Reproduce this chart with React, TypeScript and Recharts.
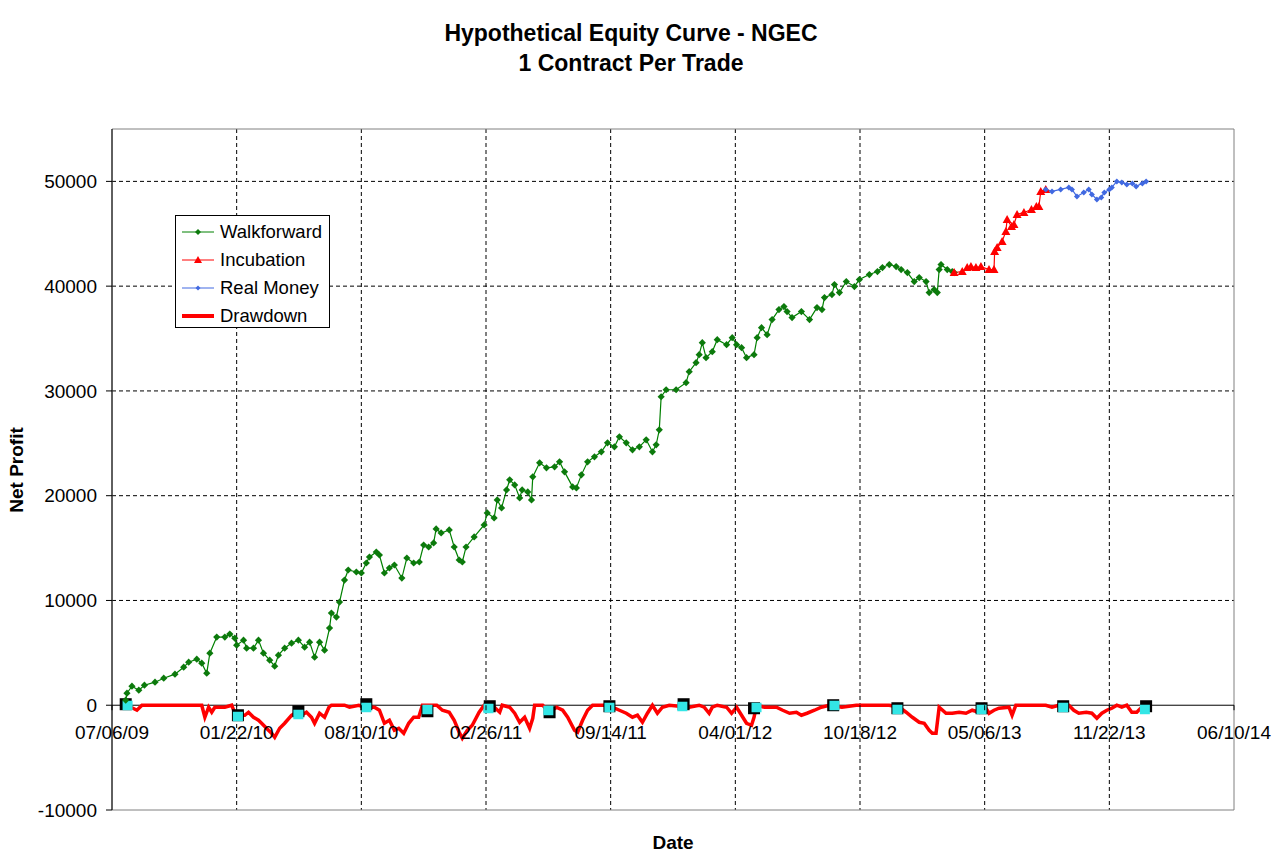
import React from 'react';
import {
  ComposedChart,
  Line,
  Scatter,
  XAxis,
  YAxis,
  CartesianGrid,
  ReferenceLine,
  ReferenceArea,
  Legend,
} from 'recharts';

// ---- axis ticks (days since 07/06/09) ----
const xTicks = [0, 200, 400, 600, 800, 1000, 1200, 1400, 1600, 1800];
const xTickLabels = ['07/06/09', '01/22/10', '08/10/10', '02/26/11', '09/14/11', '04/01/12', '10/18/12', '05/06/13', '11/22/13', '06/10/14'];
const yTicks = [-10000, 0, 10000, 20000, 30000, 40000, 50000];
const yGridValues = [10000, 20000, 30000, 40000, 50000];
const xGridValues = [200, 400, 600, 800, 1000, 1200, 1400, 1600];
const Y_MIN = -10000;
const Y_MAX = 55000;
const X_MIN = 0;
const X_MAX = 1800;

// ---- series: [day, net profit] ----
const walkforward: [number, number][] = [
  [22, 478], [24, 1147], [32, 1816], [43, 1434], [52, 1912], [69, 2199], [83, 2581], [101, 2963], [115, 3632], [123, 4111],
  [136, 4398], [144, 4015], [152, 3059], [157, 4971], [168, 6501], [181, 6501], [189, 6788], [197, 6405], [200, 5736], [211, 6214],
  [216, 5449], [227, 5449], [235, 6214], [243, 4971], [253, 4302], [261, 3728], [267, 4780], [277, 5449], [288, 5927], [299, 6214],
  [309, 5545], [317, 6023], [325, 4589], [333, 6023], [341, 5258], [349, 7361], [352, 8795], [360, 8413], [365, 9847], [373, 11950],
  [379, 12906], [392, 12715], [400, 12619], [408, 13575], [413, 14149], [424, 14627], [429, 14340], [437, 12619], [445, 13097], [453, 13384],
  [465, 12141], [473, 14053], [484, 13575], [493, 13671], [500, 15296], [508, 15105], [516, 15487], [520, 16826], [528, 16443], [541, 16730],
  [549, 15105], [557, 13862], [562, 13671], [568, 15105], [581, 16061], [597, 17208], [602, 18355], [613, 17877], [618, 19598], [625, 18833],
  [633, 20554], [638, 21510], [646, 21032], [654, 19789], [658, 20554], [667, 20363], [673, 19598], [675, 21797], [686, 23135], [697, 22657],
  [710, 22753], [718, 23231], [726, 22275], [739, 20841], [745, 20745], [753, 21988], [763, 23231], [774, 23709], [785, 24187], [795, 25047],
  [806, 24665], [814, 25621], [825, 25047], [835, 24378], [846, 24665], [857, 25334], [867, 24187], [873, 24856], [878, 26290], [881, 29445],
  [889, 30114], [905, 30114], [921, 30783], [926, 31835], [937, 32695], [942, 33460], [947, 34607], [953, 33173], [963, 33747], [971, 34894],
  [986, 34416], [995, 35085], [1002, 34416], [1010, 34129], [1018, 33173], [1030, 33460], [1035, 35085], [1042, 36041], [1051, 35372], [1059, 36806],
  [1070, 37762], [1078, 38049], [1083, 37571], [1091, 36997], [1106, 37571], [1119, 36806], [1131, 37953], [1139, 37762], [1143, 38909], [1155, 39196],
  [1159, 40152], [1167, 39387], [1178, 40439], [1191, 39961], [1199, 40630], [1215, 41108], [1228, 41395], [1236, 41777], [1247, 42064], [1258, 41873],
  [1266, 41586], [1276, 41299], [1287, 40439], [1295, 40821], [1306, 40439], [1311, 39387], [1319, 39674], [1324, 39387], [1327, 41586], [1330, 42064],
  [1340, 41586], [1348, 41395], [1351, 41299],
];

const incubation: [number, number][] = [
  [1351, 41299], [1364, 41395], [1372, 41777], [1378, 41873], [1386, 41777], [1394, 41873], [1407, 41586], [1415, 41586], [1416, 43307], [1420, 43689],
  [1428, 44263], [1434, 45219], [1436, 46366], [1443, 45697], [1447, 45888], [1452, 46844], [1463, 47035], [1475, 47322], [1483, 47609], [1487, 47609],
  [1490, 49043], [1498, 49234],
];

const realMoney: [number, number][] = [
  [1498, 49234], [1508, 49043], [1522, 49234], [1535, 49425], [1540, 49234], [1548, 48565], [1559, 48947], [1567, 49234], [1572, 48756], [1580, 48278],
  [1587, 48469], [1592, 48947], [1600, 49234], [1604, 49425], [1612, 49998], [1620, 49903], [1628, 49712], [1637, 49807], [1643, 49521], [1653, 49807],
  [1659, 49998],
];

const drawdown: [number, number][] = [
  [24, 0], [40, -478], [48, 0], [144, 0], [149, -1147], [155, -191], [160, -669], [165, -191], [181, -191], [192, 0],
  [197, -765], [203, -956], [213, -956], [219, -669], [227, -1147], [235, -1434], [240, -1721], [251, -2390], [256, -2677], [261, -3059],
  [269, -2199], [277, -1721], [288, -956], [296, -669], [304, -956], [312, -669], [320, -1147], [325, -1721], [333, -765], [341, -1147],
  [348, -191], [352, 0], [373, 0], [381, -191], [396, 0], [405, -191], [421, -191], [429, -478], [437, -1721], [445, -1434],
  [453, -2390], [460, -2199], [468, -2677], [476, -1721], [484, -1147], [492, -1147], [498, 0], [521, 0], [530, -478], [541, -669],
  [549, -1434], [557, -2581], [562, -3155], [570, -2390], [578, -1912], [589, -669], [597, 0], [610, 0], [622, -669], [626, 0],
  [638, -191], [646, -765], [654, -1625], [662, -1147], [670, -2199], [675, -1243], [678, 0], [691, 0], [702, -669], [713, -191],
  [723, -478], [731, -1147], [742, -2390], [747, -2581], [755, -1434], [763, -478], [771, 0], [793, 0], [803, -191], [814, -478],
  [825, -765], [835, -1147], [843, -956], [851, -1625], [859, -765], [867, 0], [875, -765], [883, -191], [894, 0], [926, -191],
  [942, 0], [950, -191], [958, -765], [963, -191], [971, 0], [986, -191], [994, -765], [1002, -191], [1010, -956], [1018, -1721],
  [1026, -1912], [1030, -1147], [1034, 0], [1047, -191], [1066, -191], [1076, -478], [1087, -765], [1098, -669], [1106, -956], [1115, -765],
  [1127, -478], [1138, -191], [1151, 0], [1171, -191], [1194, 0], [1247, 0], [1263, -191], [1274, -669], [1284, -1147], [1295, -1625],
  [1303, -1721], [1311, -2390], [1316, -2677], [1322, -2677], [1327, -191], [1338, -765], [1348, -765], [1359, -669], [1370, -765], [1380, -478],
  [1391, -669], [1399, 0], [1407, -765], [1415, -478], [1423, -287], [1439, -191], [1444, -956], [1450, 0], [1498, 0], [1508, -191],
  [1519, 0], [1535, 0], [1543, -478], [1551, -765], [1563, -669], [1572, -765], [1580, -1243], [1588, -765], [1596, -478], [1604, -287],
  [1612, 0], [1620, -191], [1628, 0], [1636, -669], [1644, -669], [1652, -191], [1660, 0],
];

const blackMarkers: [number, number][] = [
  [22, 96], [202, -956], [299, -574], [408, 96], [506, -574], [606, -96], [702, -669], [798, -96], [917, 96], [1030, -287],
  [1157, 0], [1260, -287], [1395, -287], [1526, -96], [1659, -96],
];

const cyanMarkers: [number, number][] = [
  [25, 0], [202, -1052], [299, -860], [408, -191], [506, -382], [604, -287], [700, -478], [798, -191], [915, -96], [1034, -191],
  [1159, 0], [1260, -382], [1395, -382], [1526, -191], [1657, -382],
];

const toRows = (arr: [number, number][]) => arr.map(([d, v]) => ({ d, v }));

// ---- layout ----
const W = 1278;
const H = 861;
const MARGIN = { top: 129, right: 44, bottom: 50, left: 12 };
const Y_AXIS_W = 100;
const X_AXIS_H = 1;
const PLOT_TOP = MARGIN.top;
const PLOT_H = H - MARGIN.top - MARGIN.bottom - X_AXIS_H;
const ZERO_Y = PLOT_TOP + ((Y_MAX - 0) / (Y_MAX - Y_MIN)) * PLOT_H;
const FONT = '"Liberation Sans", Arial, sans-serif';

const GREEN = '#008000';
const RED = '#ff0000';
const BLUE = '#4169e1';
const CYAN = '#33e6e6';

const XTick = (props: any) => {
  const { x, payload } = props;
  const idx = xTicks.indexOf(payload.value);
  const label = idx >= 0 ? xTickLabels[idx] : '';
  return (
    <g>
      <line x1={x} x2={x} y1={ZERO_Y} y2={ZERO_Y + 5} stroke="#000" strokeWidth={1} />
      <text x={x} y={ZERO_Y + 34} textAnchor="middle" fontFamily={FONT} fontSize={19} fill="#000">
        {label}
      </text>
    </g>
  );
};

const GreenDot = (p: any) => {
  const { cx, cy } = p;
  if (cx == null || cy == null) return <g />;
  return <path d={`M${cx} ${cy - 3.6}L${cx + 3.6} ${cy}L${cx} ${cy + 3.6}L${cx - 3.6} ${cy}Z`} fill="#0c7a0c" />;
};
const RedDot = (p: any) => {
  const { cx, cy } = p;
  if (cx == null || cy == null) return <g />;
  return <path d={`M${cx} ${cy - 4.5}L${cx + 4.5} ${cy + 3.5}L${cx - 4.5} ${cy + 3.5}Z`} fill={RED} />;
};
const BlueDot = (p: any) => {
  const { cx, cy } = p;
  if (cx == null || cy == null) return <g />;
  return <path d={`M${cx} ${cy - 3}L${cx + 3} ${cy}L${cx} ${cy + 3}L${cx - 3} ${cy}Z`} fill={BLUE} />;
};
const BlackSquare = (p: any) => <rect x={p.cx - 6} y={p.cy - 6} width={12} height={12} fill="#000" />;
const CyanSquare = (p: any) => <rect x={p.cx - 5} y={p.cy - 4.5} width={10} height={9.5} fill={CYAN} />;

const legendItems = [
  { name: 'Walkforward', color: GREEN, width: 1, marker: 'diamond' },
  { name: 'Incubation', color: RED, width: 1, marker: 'triangle' },
  { name: 'Real Money', color: BLUE, width: 1, marker: 'smalldiamond' },
  { name: 'Drawdown', color: RED, width: 4, marker: 'none' },
];

const LegendBox = () => (
  <div
    style={{
      width: 155,
      height: 113,
      border: '1px solid #000',
      background: '#fff',
      boxSizing: 'border-box',
      paddingTop: 2,
      fontFamily: FONT,
      fontSize: 18.5,
      color: '#000',
    }}
  >
    {legendItems.map((it) => (
      <div key={it.name} style={{ height: 28, display: 'flex', alignItems: 'center', paddingLeft: 6 }}>
        <svg width={32} height={12} style={{ display: 'block' }}>
          <line x1={0} x2={32} y1={6} y2={6} stroke={it.color} strokeWidth={it.width} />
          {it.marker === 'diamond' && <path d="M16 3L19 6L16 9L13 6Z" fill="#0c7a0c" />}
          {it.marker === 'triangle' && <path d="M16 2L20 9L12 9Z" fill={RED} />}
          {it.marker === 'smalldiamond' && <path d="M16 3.5L18.5 6L16 8.5L13.5 6Z" fill={BLUE} />}
        </svg>
        <span style={{ marginLeft: 6, whiteSpace: 'nowrap' }}>{it.name}</span>
      </div>
    ))}
  </div>
);

export default function App() {
  return (
    <div style={{ position: 'absolute', left: 0, top: 0, width: W, height: H, background: '#fff' }}>
      <div
        style={{
          position: 'absolute',
          left: 0,
          top: 18,
          width: 1262,
          textAlign: 'center',
          fontFamily: FONT,
          fontWeight: 'bold',
          fontSize: 23,
          lineHeight: '30px',
          color: '#000',
        }}
      >
        <div>Hypothetical Equity Curve - NGEC</div>
        <div>1 Contract Per Trade</div>
      </div>
      <ComposedChart width={W} height={H} margin={MARGIN} style={{ position: 'absolute', left: 0, top: 0 }}>
        <CartesianGrid
          stroke="#000"
          strokeDasharray="4 3"
          horizontalValues={yGridValues}
          verticalValues={xGridValues}
        />
        <ReferenceArea x1={X_MIN} x2={X_MAX} y1={Y_MIN} y2={Y_MAX} fill="none" stroke="#808080" strokeWidth={1} ifOverflow="visible" />
        <XAxis
          type="number"
          dataKey="d"
          domain={[X_MIN, X_MAX]}
          ticks={xTicks}
          interval={0}
          height={X_AXIS_H}
          axisLine={false}
          tickLine={false}
          tick={<XTick />}
          allowDataOverflow
          label={{
            content: () => (
              <text x={673} y={849} textAnchor="middle" fontFamily={FONT} fontWeight="bold" fontSize={19} fill="#000">
                Date
              </text>
            ),
          }}
        />
        <YAxis
          type="number"
          domain={[Y_MIN, Y_MAX]}
          ticks={yTicks}
          interval={0}
          width={Y_AXIS_W}
          axisLine={{ stroke: '#000' }}
          tickLine={{ stroke: '#000' }}
          tickSize={6}
          tickMargin={9}
          tick={{ fontFamily: FONT, fontSize: 19, fill: '#000' }}
          allowDataOverflow
          label={{
            content: () => (
              <text
                x={23}
                y={470}
                transform="rotate(-90, 23, 470)"
                textAnchor="middle"
                fontFamily={FONT}
                fontWeight="bold"
                fontSize={19}
                fill="#000"
              >
                Net Profit
              </text>
            ),
          }}
        />
        <ReferenceLine y={0} stroke="#000" strokeWidth={1} />
        <Line
          data={toRows(drawdown)}
          dataKey="v"
          name="Drawdown"
          type="linear"
          stroke={RED}
          strokeWidth={3.5}
          dot={false}
          activeDot={false}
          isAnimationActive={false}
        />
        <Scatter data={toRows(blackMarkers)} dataKey="v" shape={BlackSquare} isAnimationActive={false} legendType="none" />
        <Scatter data={toRows(cyanMarkers)} dataKey="v" shape={CyanSquare} isAnimationActive={false} legendType="none" />
        <Line
          data={toRows(walkforward)}
          dataKey="v"
          name="Walkforward"
          type="linear"
          stroke={GREEN}
          strokeWidth={1.2}
          dot={GreenDot}
          activeDot={false}
          isAnimationActive={false}
        />
        <Line
          data={toRows(incubation)}
          dataKey="v"
          name="Incubation"
          type="linear"
          stroke={RED}
          strokeWidth={1.2}
          dot={RedDot}
          activeDot={false}
          isAnimationActive={false}
        />
        <Line
          data={toRows(realMoney)}
          dataKey="v"
          name="Real Money"
          type="linear"
          stroke={BLUE}
          strokeWidth={1.2}
          dot={BlueDot}
          activeDot={false}
          isAnimationActive={false}
        />
        <Legend
          content={<LegendBox />}
          layout="vertical"
          align="center"
          verticalAlign="middle"
          wrapperStyle={{ left: 175, top: 215, width: 155, height: 113 }}
        />
      </ComposedChart>
    </div>
  );
}
